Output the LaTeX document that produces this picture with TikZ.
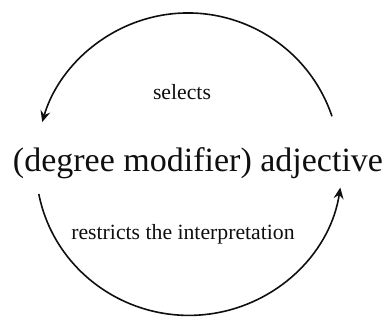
\documentclass[tikz,border=0pt]{standalone}
\usepackage{fontspec}
\setmainfont{Liberation Serif}
\usetikzlibrary{arrows.meta,calc}
\definecolor{inkclr}{RGB}{15,15,15}
\tikzset{
  %% big phrase in the middle
  phrase/.style={anchor=base,inner sep=0pt,text=inkclr,
    font=\fontsize{25.5}{30}\selectfont},
  %% arc labels
  lbl/.style={anchor=base,inner sep=0pt,text=inkclr,
    font=\fontsize{16.3}{19}\selectfont},
  %% curved arrows
  arr/.style={-{Stealth[length=8.5pt,width=7.5pt,inset=3pt]},line width=1.2pt,color=inkclr},
}
\begin{document}
\begin{tikzpicture}[x=0.75pt,y=0.75pt]
  \useasboundingbox (0,0) rectangle (387,320);

  %% text
  \node[phrase] (adj) at (198,148) {(degree modifier) adjective};
  \node[lbl] (sel) at (182,220) {selects};
  \node[lbl] (res) at (183,80)  {restricts the interpretation};

  %% arc end points round the hub
  \coordinate (hub) at (188,155);
  \coordinate (selfrom) at ($(hub)+(18.7:152)$);
  \coordinate (resfrom) at ($(hub)+(191:152)$);

  %% ── arrows ──────────────────────────────────────────
  \draw[arr] (selfrom) arc[start angle=18.7,end angle=163.6,radius=152];
  \draw[arr] (resfrom) arc[start angle=191,end angle=351.5,x radius=153,y radius=150];

\end{tikzpicture}
\end{document}
